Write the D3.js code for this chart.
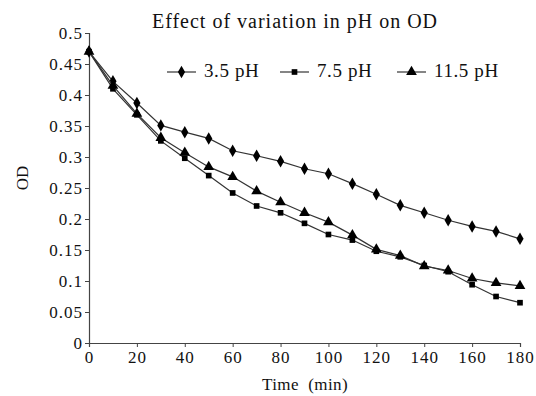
<!DOCTYPE html>
<html>
<head>
<meta charset="utf-8">
<script src="https://cdn.jsdelivr.net/npm/d3@7"></script>
<style>
  body { margin: 0; background: #fff; }
  text { font-family: "Liberation Serif", "Times New Roman", serif; fill: #111; }
</style>
</head>
<body>
<svg id="chart" width="536" height="396"></svg>
<script>
// time in minutes
const times = [0, 10, 20, 30, 40, 50, 60, 70, 80, 90, 100, 110, 120, 130, 140, 150, 160, 170, 180];

// OD readings per pH
const ph35 = [0.47, 0.422, 0.387, 0.351, 0.34, 0.33, 0.31, 0.302, 0.293, 0.281, 0.273, 0.257, 0.24, 0.222, 0.21, 0.198, 0.188, 0.18, 0.168];
const ph75 = [0.47, 0.41, 0.368, 0.326, 0.298, 0.27, 0.242, 0.221, 0.21, 0.193, 0.175, 0.166, 0.148, 0.139, 0.125, 0.115, 0.094, 0.075, 0.065];
const ph115 = [0.47, 0.415, 0.37, 0.331, 0.307, 0.284, 0.268, 0.245, 0.227, 0.21, 0.195, 0.174, 0.151, 0.141, 0.124, 0.117, 0.104, 0.097, 0.092];

const seriesNames = ['3.5 pH', '7.5 pH', '11.5 pH'];
const seriesValues = [ph35, ph75, ph115];
const markerTypes = [d3.symbolDiamond, d3.symbolSquare, d3.symbolTriangle];
const markerSizes = [45, 32, 50];

const xTicks = [0, 20, 40, 60, 80, 100, 120, 140, 160, 180];
const yTicks = [0, 0.05, 0.1, 0.15, 0.2, 0.25, 0.3, 0.35, 0.4, 0.45, 0.5];

const margin = { left: 89, top: 33, right: 16, bottom: 53 };
const width = 536, height = 396;

const svg = d3.select('#chart');

const x = d3.scaleLinear().domain([0, 180]).range([margin.left, width - margin.right]);
const y = d3.scaleLinear().domain([0, 0.5]).range([height - margin.bottom, margin.top]);

// axes
const xAxis = svg.append('g')
  .attr('transform', `translate(0,${y(0)})`)
  .call(d3.axisBottom(x).tickValues(xTicks).tickSize(4).tickPadding(4).tickFormat(d3.format('d')));

const yAxis = svg.append('g')
  .attr('transform', `translate(${x(0)},0)`)
  .call(d3.axisLeft(y).tickValues(yTicks).tickSize(4).tickPadding(2).tickFormat(d => d === 0 ? '0' : String(+d.toFixed(2))));

[xAxis, yAxis].forEach(ax => {
  ax.select('.domain').attr('stroke', '#444').attr('stroke-width', 1.2);
  ax.selectAll('.tick line').attr('stroke', '#444');
  ax.selectAll('.tick text')
    .style('font-family', '"Liberation Serif", serif')
    .style('font-size', '17px')
    .style('letter-spacing', '1px')
    .attr('fill', '#111');
});

// lines + markers
const line = d3.line()
  .x((d, i) => x(times[i]))
  .y(d => y(d));

seriesValues.forEach((vals, s) => {
  svg.append('path')
    .datum(vals)
    .attr('fill', 'none')
    .attr('stroke', '#333')
    .attr('stroke-width', 1.2)
    .attr('d', line);

  svg.append('g')
    .selectAll('path')
    .data(vals)
    .enter()
    .append('path')
    .attr('d', d3.symbol().type(markerTypes[s]).size(markerSizes[s]))
    .attr('transform', (d, i) => `translate(${x(times[i])},${y(d)})`)
    .attr('fill', '#000');
});

// title
svg.append('text')
  .text('Effect of variation in pH on OD')
  .attr('x', 295)
  .attr('y', 28)
  .style('font-size', '20px')
  .style('letter-spacing', '1px')
  .style('text-anchor', 'middle');

// legend
const legendX = [167, 280, 397];
const legend = svg.append('g');
seriesNames.forEach((name, s) => {
  const g = legend.append('g').attr('transform', `translate(${legendX[s]},72)`);
  g.append('line')
    .attr('x1', 0).attr('x2', 29)
    .attr('stroke', '#333').attr('stroke-width', 1.2);
  g.append('path')
    .attr('d', d3.symbol().type(markerTypes[s]).size(markerSizes[s]))
    .attr('transform', 'translate(14.5,0)')
    .attr('fill', '#000');
  g.append('text')
    .text(name)
    .attr('x', 37)
    .attr('y', 5)
    .style('font-size', '19px')
    .style('letter-spacing', '0.6px');
});

// axis titles
svg.append('text')
  .text('Time  (min)')
  .attr('x', 305)
  .attr('y', 390)
  .style('font-size', '17px')
  .style('letter-spacing', '0.4px')
  .style('text-anchor', 'middle')
  .style('white-space', 'pre');

svg.append('text')
  .text('OD')
  .attr('transform', 'translate(28,178) rotate(-90)')
  .style('font-size', '17px')
  .style('text-anchor', 'middle');
</script>
</body>
</html>
